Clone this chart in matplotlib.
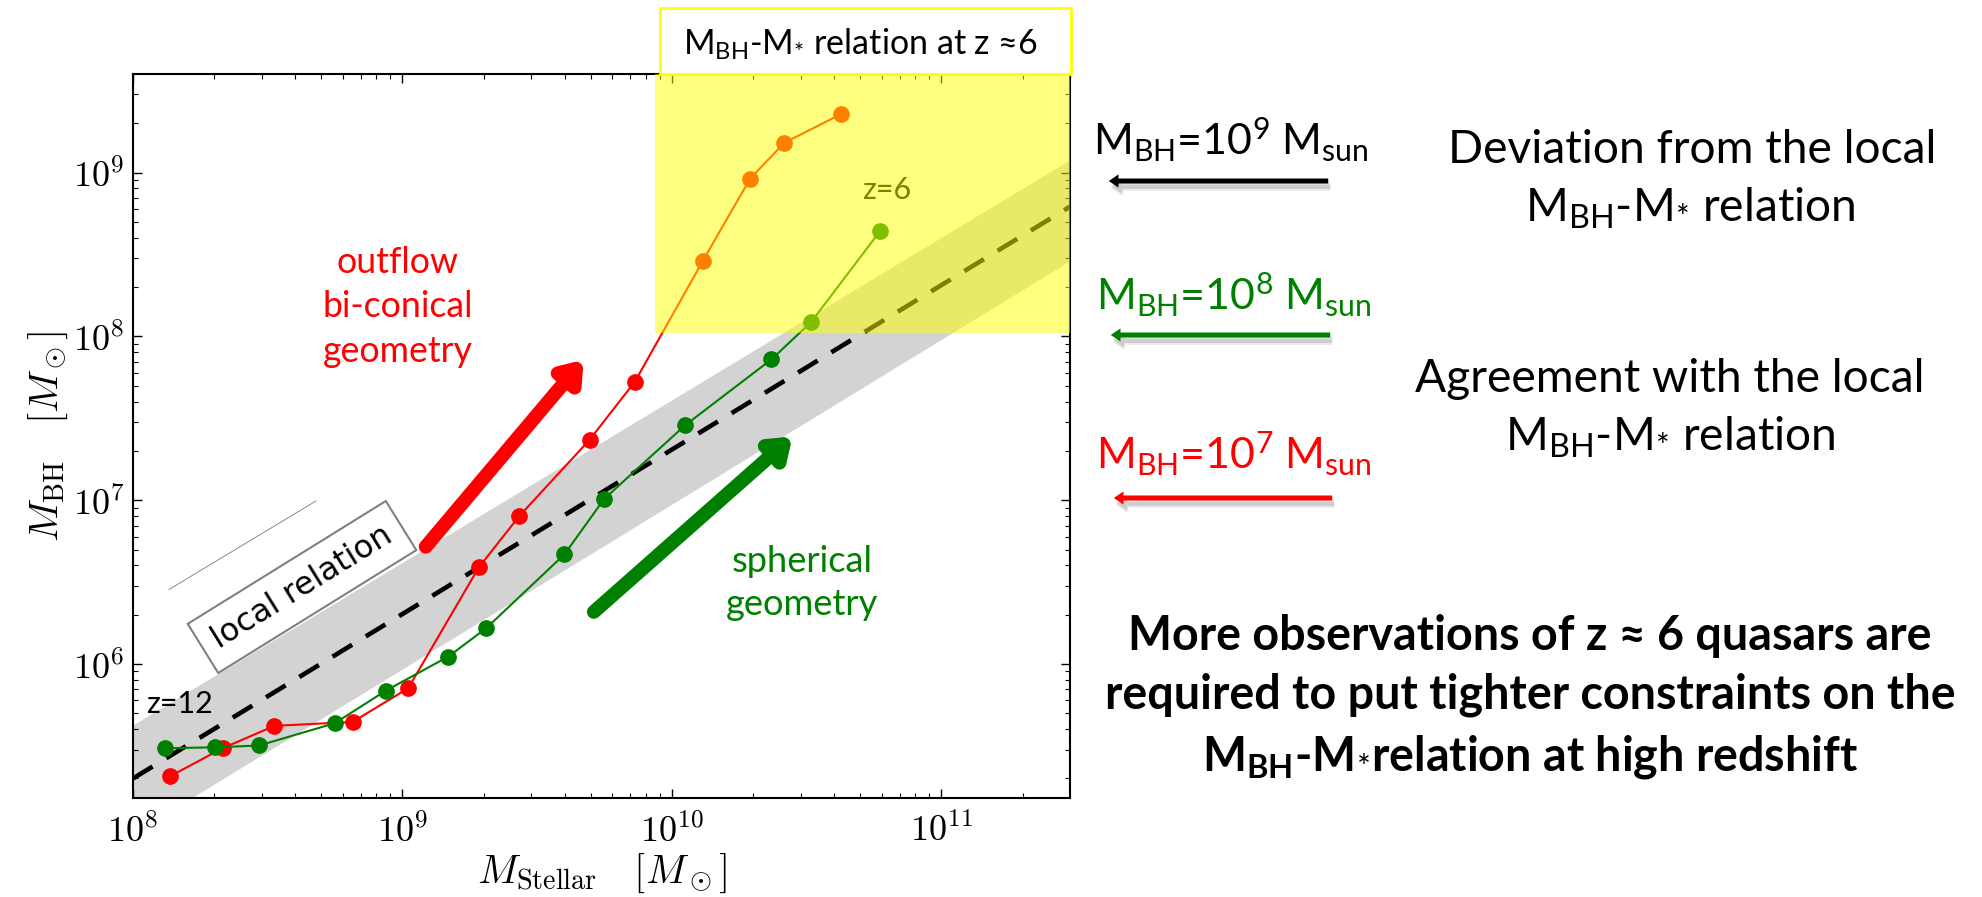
import numpy as np
import matplotlib
matplotlib.use('Agg')
import matplotlib.pyplot as plt
from matplotlib.patches import FancyArrowPatch, Rectangle
from matplotlib.ticker import FuncFormatter, NullFormatter

W, H = 1982, 897

# bi-conical outflow track (red, orange where it enters the z~6 box)
red_mstar = [1.37e8, 2.15e8, 3.35e8, 6.53e8, 1.05e9, 1.92e9, 2.71e9, 4.95e9,
             7.29e9, 1.30e10, 1.95e10, 2.61e10, 4.25e10]
red_mbh = [2.06e5, 3.06e5, 4.19e5, 4.43e5, 7.11e5, 3.89e6, 7.98e6, 2.34e7,
           5.3e7, 2.88e8, 9.18e8, 1.52e9, 2.28e9]

# spherical track (green)
green_mstar = [1.32e8, 2.02e8, 2.94e8, 5.61e8, 8.67e8, 1.48e9, 2.05e9, 3.99e9,
               5.61e9, 1.12e10, 2.34e10, 3.28e10, 5.93e10]
green_mbh = [3.06e5, 3.10e5, 3.18e5, 4.35e5, 6.87e5, 1.11e6, 1.66e6, 4.67e6,
             1.02e7, 2.87e7, 7.24e7, 1.22e8, 4.41e8]

# local relation and its scatter band, at the two ends of the x range
local_mstar = [1e8, 3e11]
local_mbh = [2.0e5, 6.2e8]
band_hi = [4.25e5, 1.2e9]
band_lo = [9.2e4, 2.9e8]

# faint guide line next to the "local relation" label
guide_mstar = [1.36e8, 4.78e8]
guide_mbh = [2.85e6, 9.9e6]

# thick trend arrows (tail, head)
outflow_arrow = [(1.22e9, 5.2e6), (4.7e9, 7.2e7)]
spherical_arrow = [(5.13e9, 2.08e6), (2.8e10, 2.45e7)]

# z ~ 6 highlighted region
z6_mstar = (8.65e9, 3e11)
z6_mbh = (1.05e8, 4e9)

mbh_labels = [r'M$_{\mathrm{BH}}$=10$^{\mathrm{9}}$ M$_{\mathrm{sun}}$',
              r'M$_{\mathrm{BH}}$=10$^{\mathrm{8}}$ M$_{\mathrm{sun}}$',
              r'M$_{\mathrm{BH}}$=10$^{\mathrm{7}}$ M$_{\mathrm{sun}}$']
mbh_colors = ['black', '#008000', '#ff0000']

plt.rcParams['font.family'] = ['Lato', 'DejaVu Sans']
plt.rcParams['mathtext.fontset'] = 'cm'
plt.rcParams['mathtext.rm'] = 'Lato'
plt.rcParams['mathtext.it'] = 'Lato:italic'
plt.rcParams['mathtext.bf'] = 'Lato:bold'


def fx(x):
    return x / W


def fy(y):
    return 1 - y / H


fig = plt.figure(figsize=(W / 100, H / 100), dpi=100)
ax = fig.add_axes([fx(133), fy(798), (1070 - 133) / W, (798 - 74) / H])
ax.set_xscale('log')
ax.set_yscale('log')
ax.set_xlim(1e8, 3e11)
ax.set_ylim(1.52e5, 4e9)

ax.fill_between(local_mstar, band_lo, band_hi, color='#d3d3d3', lw=0, zorder=1)
ax.plot(local_mstar, local_mbh, color='black', lw=3.3, ls=(0, (5, 3.5)), zorder=2)
ax.plot(guide_mstar, guide_mbh, color='#777777', lw=0.6, zorder=2)

ax.plot(red_mstar, red_mbh, '-o', color='#ff0000', lw=1.5, ms=11, zorder=3)
ax.plot(green_mstar, green_mbh, '-o', color='#008000', lw=1.5, ms=11, zorder=3)

for (tail, head), col in [(outflow_arrow, '#ff0000'), (spherical_arrow, '#008000')]:
    ax.annotate('', xy=head, xytext=tail,
                arrowprops=dict(arrowstyle='-|>,head_length=0.55,head_width=0.4',
                                mutation_scale=20, lw=10, color=col,
                                shrinkA=0, shrinkB=0,
                                capstyle='round', joinstyle='round'),
                zorder=4)

# texts that sit under the yellow overlay
ax.text(fx(862), fy(199), 'z=6', transform=fig.transFigure, fontsize=22,
        color='black', zorder=5)
ax.text(fx(146), fy(713), 'z=12', transform=fig.transFigure, fontsize=22,
        color='black', zorder=5)
ax.text(fx(302), fy(587), 'local relation', transform=fig.transFigure,
        family='DejaVu Sans', fontsize=23, rotation=31.8, rotation_mode='anchor',
        ha='center', va='center', zorder=5,
        bbox=dict(boxstyle='square,pad=0.42', fc='white', ec='#808080', lw=1.5))

ax.add_patch(Rectangle((z6_mstar[0], z6_mbh[0]), z6_mstar[1] - z6_mstar[0],
                       z6_mbh[1] - z6_mbh[0], fc='yellow', ec='none',
                       alpha=0.5, zorder=10))

ax.xaxis.set_major_formatter(FuncFormatter(lambda v, p: r'$\mathrm{10^{%d}}$' % round(np.log10(v))))
ax.yaxis.set_major_formatter(FuncFormatter(lambda v, p: r'$\mathrm{10^{%d}}$' % round(np.log10(v))))
ax.xaxis.set_minor_formatter(NullFormatter())
ax.yaxis.set_minor_formatter(NullFormatter())
ax.tick_params(which='both', direction='in', top=True, right=True)
ax.tick_params(which='major', length=6.5, width=1, labelsize=26)
ax.tick_params(axis='x', which='major', pad=10)
ax.tick_params(axis='y', which='major', pad=6)
ax.tick_params(which='minor', length=3.5, width=0.8)
for sp in ax.spines.values():
    sp.set_linewidth(1.5)

ax.set_xlabel(r'$M_{\rm Stellar}\ \ \ [M_\odot]$', fontsize=29, va='center')
ax.xaxis.set_label_coords(0.5, -0.1036)
ax.set_ylabel(r'$M_{\rm BH}\quad[M_\odot]$', fontsize=29, va='center')
ax.yaxis.set_label_coords(-0.0907, 0.5)

# title box above the plot
fig.add_artist(Rectangle((fx(660), fy(74)), (1071 - 660) / W, 66 / H,
                         transform=fig.transFigure, fc='white', ec='#ffff00', lw=2))
title = fig.text(fx(860), fy(55), r'M$_{\mathrm{BH}}$-M$_{*}$ relation at z ≈6',
                 ha='center', va='baseline', fontsize=25, math_fontfamily='custom')

outflow = [fig.text(fx(398), fy(b), s, ha='center', va='baseline', fontsize=25,
                    color='#ff0000')
           for s, b in [('outflow', 273), ('bi-conical', 317), ('geometry', 362)]]
spherical = [fig.text(fx(802), fy(b), s, ha='center', va='baseline', fontsize=25,
                      color='#008000')
             for s, b in [('spherical', 572), ('geometry', 615)]]

# right-hand annotations
mbh_texts = []
for s, col, (x, b), (x0, x1, ya) in zip(mbh_labels, mbh_colors,
                                       [(1093, 155), (1096, 310), (1096, 469)],
                                       [(1331, 1106, 181), (1333, 1108, 335),
                                        (1335, 1111, 498)]):
    mbh_texts.append(fig.text(fx(x), fy(b), s, color=col, fontsize=28,
                              va='baseline', math_fontfamily='custom'))
    style = 'simple,head_length=0.7,head_width=0.95,tail_width=0.36'
    for off, a in [(7, 0.08), (5, 0.12)]:
        fig.add_artist(FancyArrowPatch((fx(x0 + 2), fy(ya + off)), (fx(x1 + 2), fy(ya + off)),
                                       transform=fig.transFigure, arrowstyle=style,
                                       mutation_scale=12, color='black', alpha=a, lw=0))
    fig.add_artist(FancyArrowPatch((fx(x0), fy(ya)), (fx(x1), fy(ya)),
                                   transform=fig.transFigure, arrowstyle=style,
                                   mutation_scale=10, color=col, lw=0))

desc = [fig.text(fx(x), fy(b), s, ha='center', va='baseline', fontsize=30,
                 math_fontfamily='custom')
        for s, x, b in [('Deviation from the local', 1692, 163),
                        (r'M$_{\mathrm{BH}}$-M$_{*}$ relation', 1690, 222),
                        ('Agreement with the local', 1670, 392),
                        (r'M$_{\mathrm{BH}}$-M$_{*}$ relation', 1670, 451)]]

bold = [fig.text(fx(1530), fy(b), s, ha='center', va='baseline', fontsize=28,
                 fontweight='bold', math_fontfamily='custom')
        for s, b in [('More observations of z ≈ 6 quasars are', 650),
                     ('required to put tighter constraints on the', 708),
                     (r'M$_{\mathbf{BH}}$-M$_{*}$relation at high redshift', 770)]]

# size the substitute font so the text blocks keep their widths
renderer = fig.canvas.get_renderer()


def fit_width(texts, idx, target):
    w = texts[idx].get_window_extent(renderer).width
    for t in texts:
        t.set_fontsize(t.get_fontsize() * target / w)


fit_width([title], 0, 355)
fit_width(outflow, 1, 151)
fit_width(spherical, 1, 153)
fit_width(mbh_texts, 0, 276)
fit_width(desc, 0, 488)
fit_width(bold, 1, 849)

fig.savefig('out.png', dpi=100)
